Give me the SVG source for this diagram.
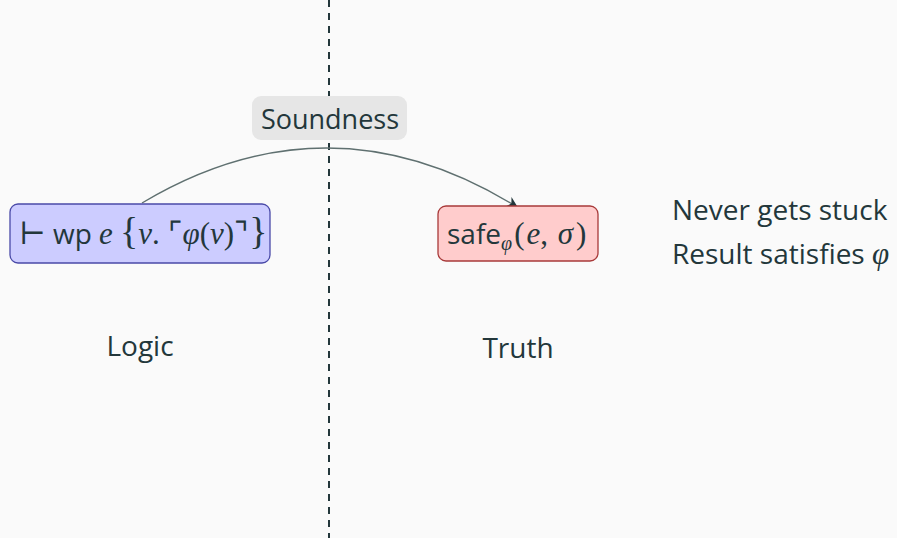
<svg xmlns="http://www.w3.org/2000/svg" width="897" height="538" viewBox="0 0 897 538">
<style>
.t{font-family:"Open Sans","DejaVu Sans",sans-serif;fill:#23373b;font-size:28px}
.m{font-family:"Liberation Serif","DejaVu Serif",serif;font-style:italic;fill:#23373b;font-size:31px}
.r{font-family:"Liberation Serif","DejaVu Serif",serif;fill:#23373b;font-size:31px}
</style>
<defs>
<marker id="ah" viewBox="0 0 10 10" refX="9" refY="5" markerWidth="11" markerHeight="11" orient="auto" markerUnits="userSpaceOnUse">
<path d="M0,0 L10,5 L0,10 L3,5 Z" fill="#23373b"/>
</marker>
</defs>
<rect width="897" height="538" fill="#fafafa"/>
<line x1="329" y1="0" x2="329" y2="538" stroke="#23373b" stroke-width="2" stroke-dasharray="7,6"/>
<g id="connectors">
<path d="M142,203 Q330,91 517,207" fill="none" stroke="#5f7070" stroke-width="1.4" marker-end="url(#ah)"/>
</g>
<g id="soundness">
<rect x="252" y="96" width="155" height="44" rx="9" fill="#e6e6e6"/>
<text class="t" x="330" y="129" text-anchor="middle" style="font-size:27px">Soundness</text>
</g>
<g id="logic-node">
<rect x="10" y="204" width="260" height="59" rx="8" fill="#ccccff" stroke="#4a4aa8" stroke-width="1.3"/>
<text x="19" y="244" class="t"><tspan class="r">⊢</tspan> wp <tspan class="m">e</tspan> <tspan class="r" style="font-size:38px">{</tspan><tspan class="m">v</tspan><tspan class="r">. ⌜</tspan><tspan class="m">φ</tspan><tspan class="r">(</tspan><tspan class="m">v</tspan><tspan class="r">)⌝</tspan><tspan class="r" style="font-size:38px">}</tspan></text>
</g>
<g id="truth-node">
<rect x="438" y="206" width="160" height="55" rx="8" fill="#ffcccc" stroke="#a83a3a" stroke-width="1.3"/>
<text x="447" y="244" class="t">safe<tspan class="m" style="font-size:20px" dy="6">φ</tspan><tspan class="r" dy="-6" dx="2">(</tspan><tspan class="m" dx="2">e</tspan><tspan class="r">, </tspan><tspan class="m" dx="2">σ</tspan><tspan class="r" dx="3">)</tspan></text>
</g>
<g id="labels">
<text class="t" x="140" y="356" text-anchor="middle">Logic</text>
<text class="t" x="518" y="358" text-anchor="middle">Truth</text>
<text class="t" x="672" y="220">Never gets stuck</text>
<text class="t" x="672" y="264">Result satisfies <tspan class="m">φ</tspan></text>
</g>
</svg>
